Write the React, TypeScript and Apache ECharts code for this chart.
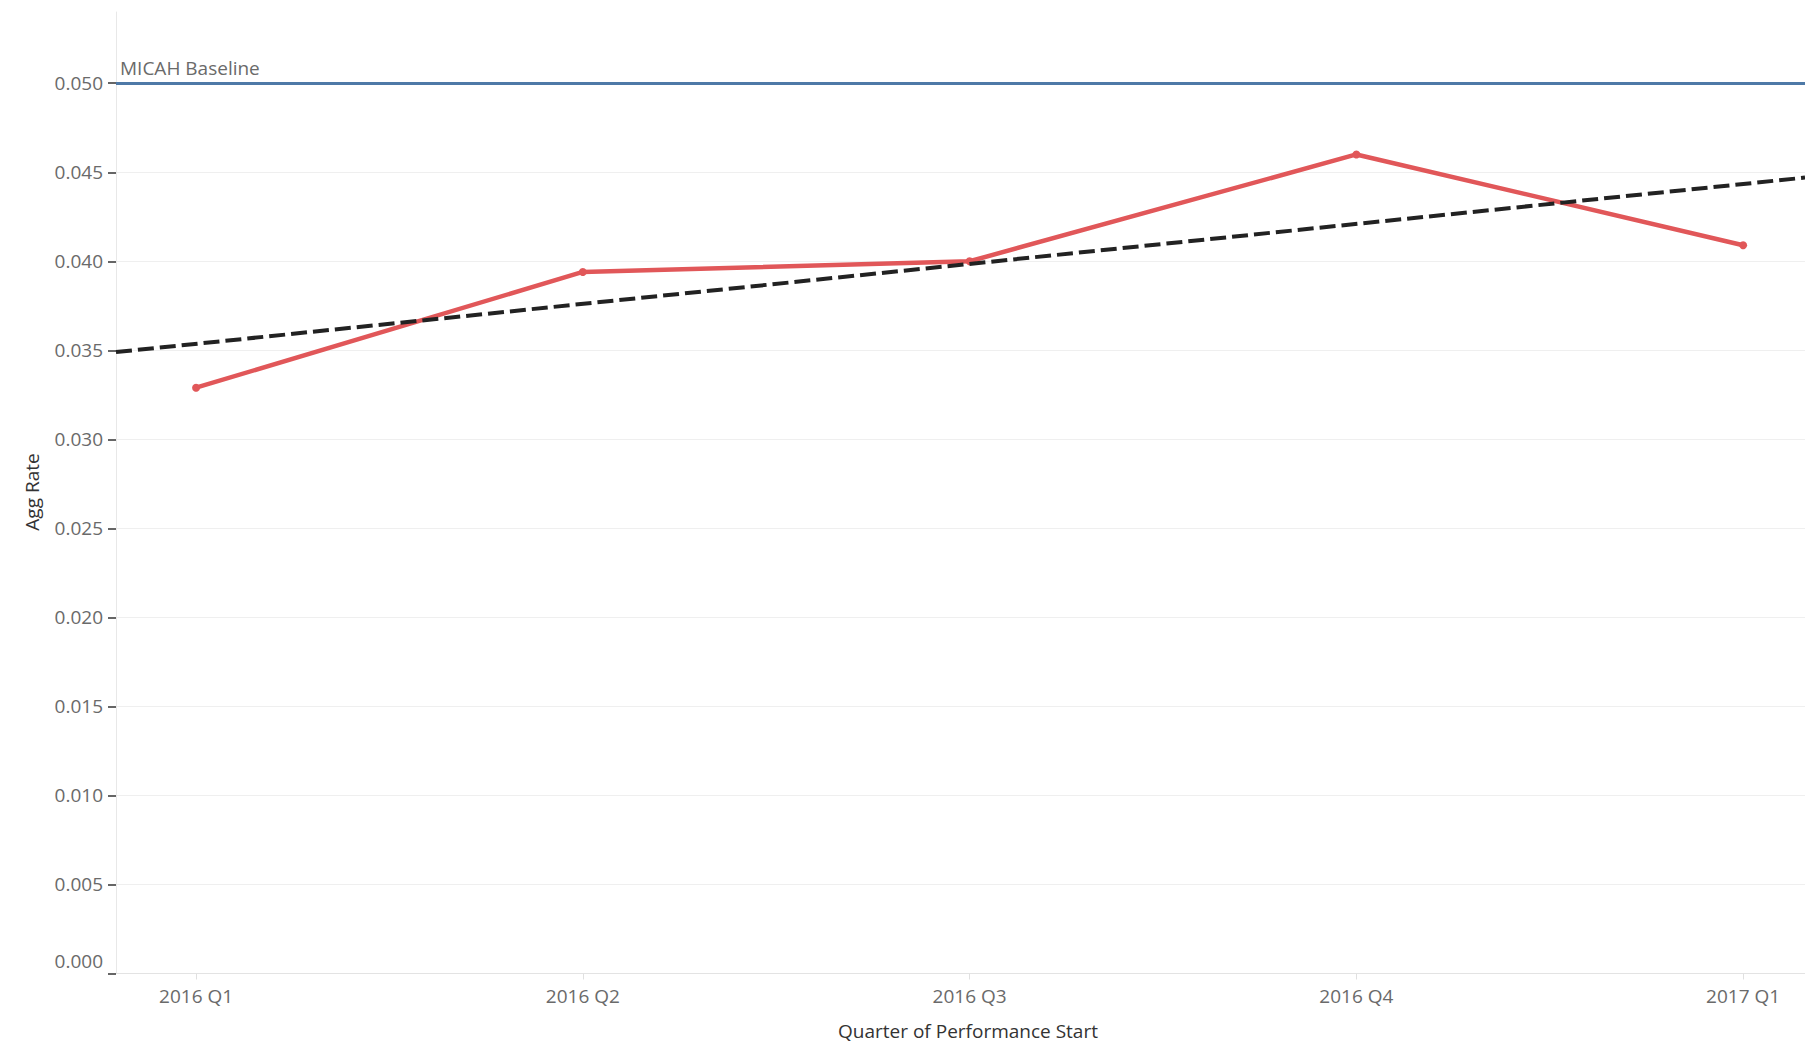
import React, { useEffect, useRef } from "react";
import * as echarts from "echarts";

const categories = ["2016 Q1", "2016 Q2", "2016 Q3", "2016 Q4", "2017 Q1"];
const aggRate = [0.0329, 0.0394, 0.04, 0.046, 0.0409];
const trendEnds = [0.0349, 0.0447];
const baselineValue = 0.05;
const baselineLabel = "MICAH Baseline";
const yTicks = [0, 0.005, 0.01, 0.015, 0.02, 0.025, 0.03, 0.035, 0.04, 0.045, 0.05];
const xRange = [-0.207, 4.16];
const yRange = [0, 0.054];
const yTitle = "Agg Rate";
const xTitle = "Quarter of Performance Start";

const FONT = "'Open Sans', 'Noto Sans', sans-serif";

export default function App() {
  const ref = useRef<HTMLDivElement>(null);
  useEffect(() => {
    if (!ref.current) return;
    const chart = echarts.init(ref.current, null, { renderer: "svg" });
    const xIdx = categories.map((_, i) => i);
    chart.setOption({
      animation: false,
      backgroundColor: "#ffffff",
      textStyle: { fontFamily: FONT },
      grid: { left: 116, right: 0, top: 12, bottom: 70.5, containLabel: false },
      xAxis: {
        type: "value",
        min: xRange[0],
        max: xRange[1],
        axisLine: { show: true, onZero: false, lineStyle: { color: "#e3e3e3", width: 1 } },
        axisTick: { show: true, customValues: xIdx, length: 6, lineStyle: { color: "#e0e0e0" } },
        axisLabel: {
          customValues: xIdx,
          formatter: (v: number) => categories[Math.round(v)] ?? "",
          color: "#6a6a6a",
          fontSize: 19,
          fontFamily: FONT,
          margin: 13,
        },
        splitLine: { show: false },
      },
      yAxis: {
        type: "value",
        min: yRange[0],
        max: yRange[1],
        interval: 0.005,
        axisLine: { show: true, onZero: false, lineStyle: { color: "#e8e8e8", width: 1 } },
        axisTick: { show: true, customValues: yTicks, length: 8, lineStyle: { color: "#333333", width: 1.5 } },
        axisLabel: {
          customValues: yTicks,
          formatter: (v: number) => (v === 0 ? "{z|0.000}" : v.toFixed(3)),
          color: "#6a6a6a",
          fontSize: 19,
          fontFamily: FONT,
          margin: 13,
          rich: { z: { padding: [0, 0, 26, 0], color: "#6a6a6a", fontSize: 19, fontFamily: FONT } },
        },
        splitLine: { show: true, showMaxLine: false, lineStyle: { color: "#efefef", width: 1 } },
      },
      graphic: [
        {
          type: "text",
          x: 32,
          y: 492,
          rotation: Math.PI / 2,
          style: {
            text: yTitle,
            fill: "#333333",
            fontSize: 19,
            lineHeight: 19,
            fontFamily: FONT,
            align: "center",
            verticalAlign: "middle",
          },
        },
        {
          type: "text",
          x: 968,
          y: 1031,
          style: {
            text: xTitle,
            fill: "#333333",
            fontSize: 19,
            lineHeight: 19,
            fontFamily: FONT,
            align: "center",
            verticalAlign: "middle",
          },
        },
      ],
      series: [
        {
          type: "line",
          name: "Agg Rate",
          data: aggRate.map((v, i) => [i, v]),
          symbol: "circle",
          symbolSize: 8,
          lineStyle: { color: "#e15759", width: 4.5 },
          itemStyle: { color: "#e15759" },
          z: 3,
          silent: true,
          markLine: {
            silent: true,
            symbol: ["none", "none"],
            data: [{ yAxis: baselineValue }],
            lineStyle: { color: "#4e79a7", width: 3, type: "solid" },
            label: {
              show: true,
              position: "insideStartTop",
              formatter: baselineLabel,
              color: "#6a6a6a",
              fontSize: 19,
              fontFamily: FONT,
              distance: [4, 6],
            },
            z: 1,
          },
        },
        {
          type: "line",
          name: "Trend",
          data: [
            [xRange[0], trendEnds[0]],
            [xRange[1], trendEnds[1]],
          ],
          symbol: "none",
          lineStyle: { color: "#222222", width: 4, type: [16, 6] },
          z: 4,
          silent: true,
        },
      ],
    });
    return () => chart.dispose();
  }, []);
  return (
    <div
      ref={ref}
      style={{ position: "fixed", left: 0, top: 0, width: 1805, height: 1044, background: "#fff" }}
    />
  );
}
